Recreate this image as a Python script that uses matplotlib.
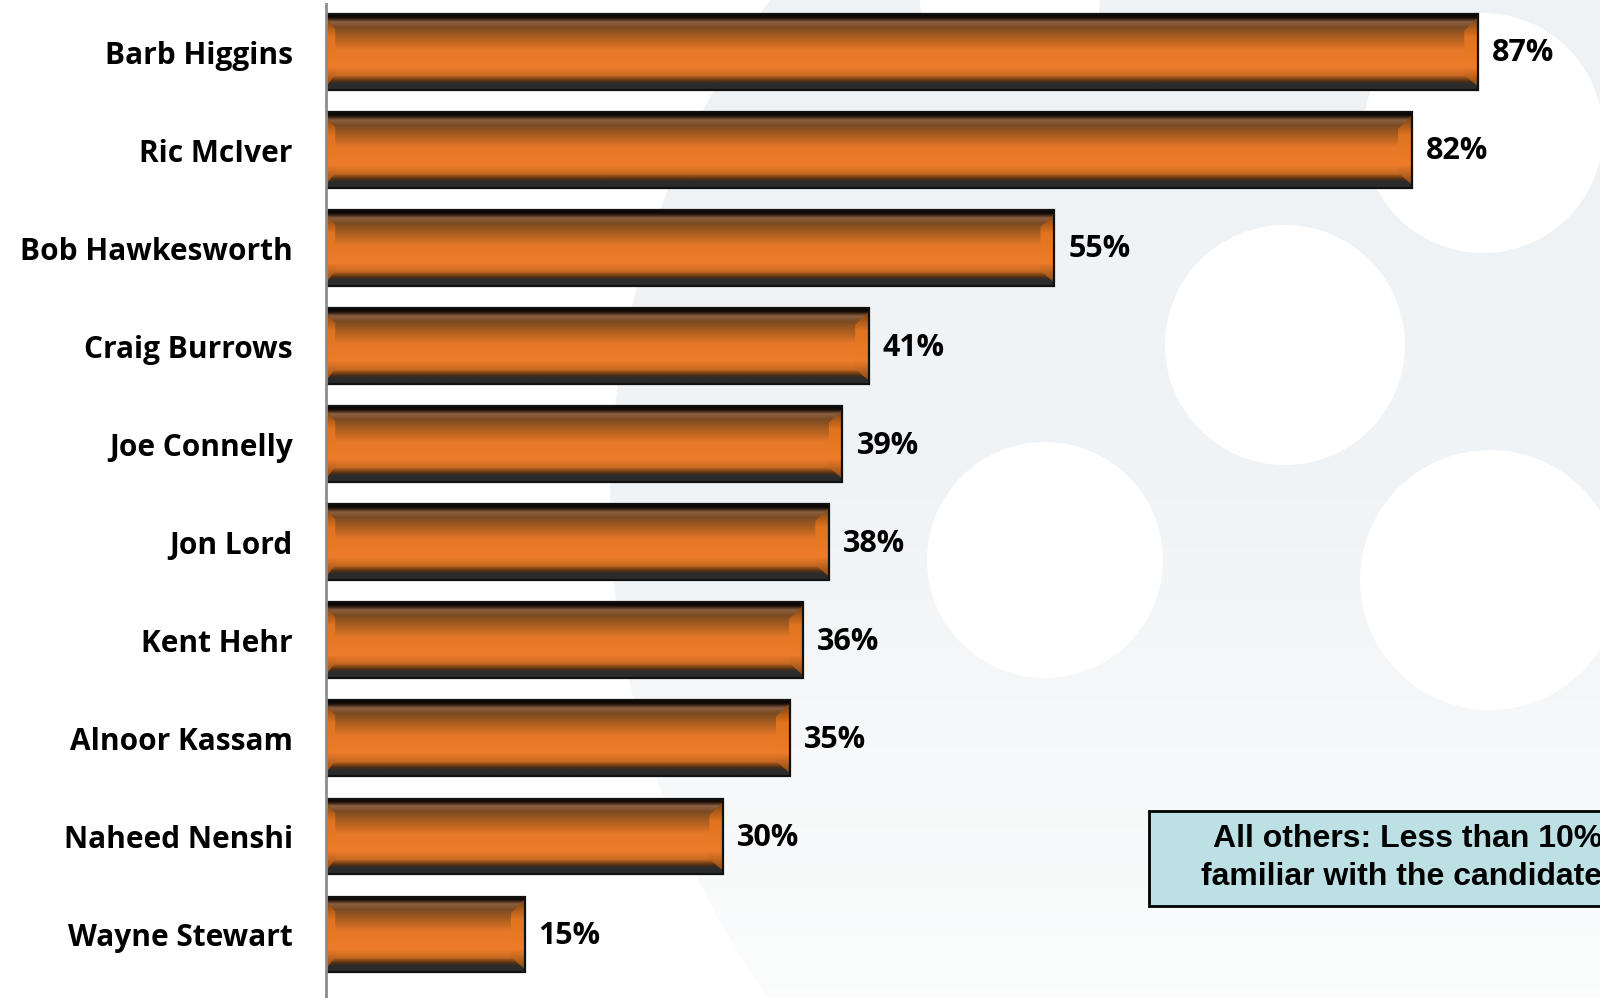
import numpy as np
import matplotlib
matplotlib.use("Agg")
import matplotlib.pyplot as plt
from matplotlib.colors import LinearSegmentedColormap
from matplotlib.patches import Circle, Rectangle, Polygon

# data
candidates = ["Barb Higgins", "Ric McIver", "Bob Hawkesworth", "Craig Burrows",
              "Joe Connelly", "Jon Lord", "Kent Hehr", "Alnoor Kassam",
              "Naheed Nenshi", "Wayne Stewart"]
familiar = [87, 82, 55, 41, 39, 38, 36, 35, 30, 15]
note_lines = ["All others: Less than 10%", "familiar with the candidates"]

W, H = 1600, 998
fig = plt.figure(figsize=(W / 100, H / 100), dpi=100)
fig.patch.set_facecolor("white")

# faint watermark shapes behind everything, drawn in pixel units
bg = fig.add_axes([0, 0, 1, 1], zorder=-1)
bg.set_xlim(0, W)
bg.set_ylim(H, 0)
bg.axis("off")
blob = Circle((1471, 500), 861, facecolor="none", edgecolor="none")
bg.add_patch(blob)
wm = LinearSegmentedColormap.from_list("wm", ["#eef2f4", "#f1f4f6", "#fbfcfc"])
shade = bg.imshow(np.linspace(0, 1, 100)[:, None], cmap=wm, extent=[0, W, H, 0],
                  aspect="auto", zorder=0)
shade.set_clip_path(blob)
for cx, cy, r in [(1045, 560, 118), (1285, 345, 120), (1490, 580, 130), (1483, 133, 120),
                  (1010, 0, 90)]:
    bg.add_patch(Circle((cx, cy), r, facecolor="white", edgecolor="none", zorder=1))
bg.set_xlim(0, W)
bg.set_ylim(H, 0)

ax = fig.add_axes([326 / W, 0, 1 - 326 / W, (H - 4) / H], zorder=1)
ax.patch.set_alpha(0)

pos = np.arange(len(candidates))
bar_h = 0.77
ax.set_xlim(0, 96.2)
ax.set_ylim(9.65, -0.49)

# vertical shading of the glossy bars
stops = [(0.00, "#000000"), (0.05, "#20120a"), (0.10, "#8c6042"), (0.17, "#7a4a22"),
         (0.32, "#b0601f"), (0.47, "#e77828"), (0.70, "#ee7c2a"), (0.81, "#c96a22"),
         (0.88, "#5a3210"), (0.92, "#2b2b2b"), (1.00, "#2b2b2b")]
cmap = LinearSegmentedColormap.from_list("bar", stops)
prof = cmap(np.linspace(0, 1, 120))[:, :3]
cap_cmap = LinearSegmentedColormap.from_list("cap", [(0, "#6a3a14"), (0.3, "#e0741f"),
                                                     (0.7, "#ee7c2a"), (1, "#7a4312")])

bars = ax.barh(pos, familiar, height=bar_h, color="none", edgecolor="#111111",
               linewidth=1.6, zorder=4)

for b, v, y in zip(bars, familiar, pos):
    top, bot = y - bar_h / 2, y + bar_h / 2
    img = np.repeat(prof[:, None, :], 2, axis=1)
    im = ax.imshow(img, extent=[0, v, bot, top], aspect="auto",
                   interpolation="bilinear", zorder=3)
    im.set_clip_path(b)
    # bevelled end faces
    d = 1.05
    for face in [[(v - d, top + 0.22 * bar_h), (v, top + 0.04 * bar_h),
                  (v, bot - 0.04 * bar_h), (v - d, bot - 0.2 * bar_h)],
                 [(0, top + 0.04 * bar_h), (0.7, top + 0.2 * bar_h),
                  (0.7, bot - 0.2 * bar_h), (0, bot - 0.04 * bar_h)]]:
        poly = Polygon(face, closed=True, facecolor="none", edgecolor="none")
        ax.add_patch(poly)
        fim = ax.imshow(np.linspace(0, 1, 50)[:, None], cmap=cap_cmap,
                        extent=[face[0][0], face[2][0], bot, top] if face[0][0] < face[2][0]
                        else [face[2][0], face[0][0], bot, top],
                        aspect="auto", interpolation="bilinear", zorder=3.5)
        fim.set_clip_path(poly)
    ax.annotate(f"{v}%", xy=(v, y), xytext=(10, -1), textcoords="offset points",
                ha="left", va="center", fontsize=22, fontweight="bold",
                family="Open Sans", color="black")

ax.set_yticks(pos, labels=candidates)
ax.tick_params(axis="y", length=0, pad=24)
for t in ax.get_yticklabels():
    t.set_fontsize(21.5)
    t.set_fontweight("bold")
    t.set_family("Open Sans")
ax.set_xticks([])
for s in ["top", "right", "bottom"]:
    ax.spines[s].set_visible(False)
ax.spines["left"].set_color("#8c8c8c")
ax.spines["left"].set_linewidth(2)
ax.spines["left"].set_zorder(6)

# note box (runs off the right edge in the reference)
fig.patches.append(Rectangle((1149 / W, 1 - 906 / H), 500 / W, 95 / H,
                             transform=fig.transFigure, facecolor="#bde0e4",
                             edgecolor="black", linewidth=2, zorder=5))
fig.text(1213 / W, 1 - 839 / H, note_lines[0], ha="left", va="center", fontsize=23,
         fontweight="bold", family="Liberation Sans", zorder=6)
fig.text(1201 / W, 1 - 877 / H, note_lines[1], ha="left", va="center", fontsize=23,
         fontweight="bold", family="Liberation Sans", zorder=6)

fig.savefig("out.png", dpi=100)
